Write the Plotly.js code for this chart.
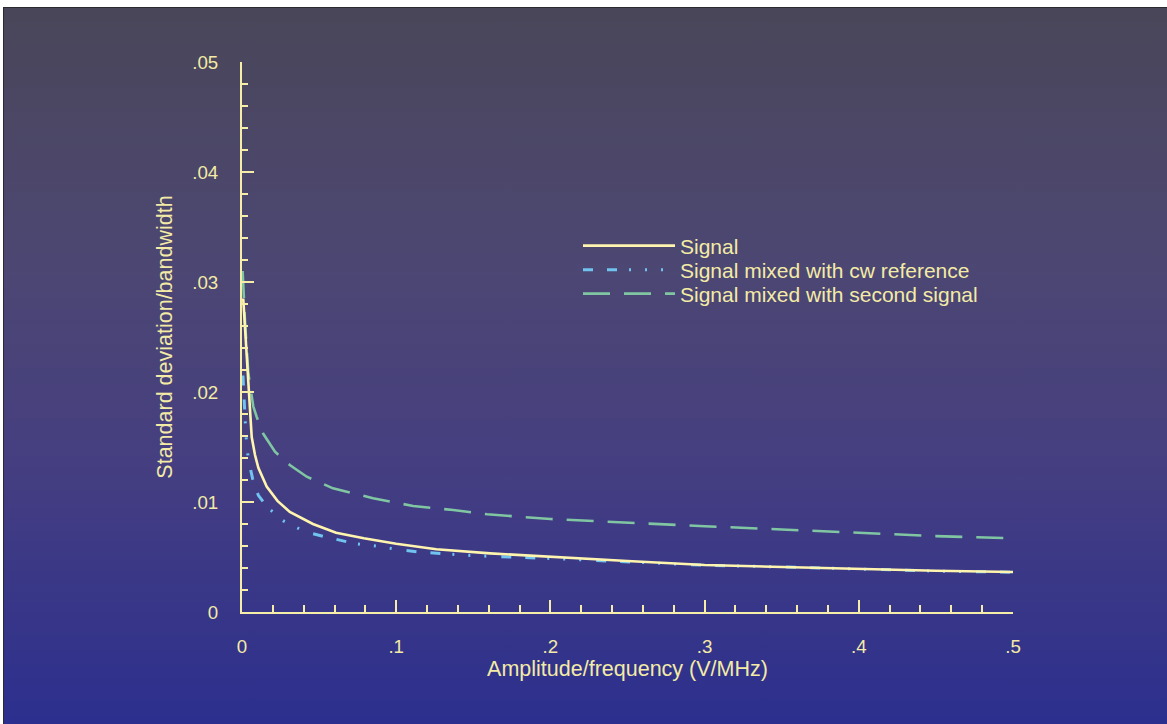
<!DOCTYPE html>
<html>
<head>
<meta charset="utf-8">
<script src="https://cdn.plot.ly/plotly-3.0.1.min.js"></script>
<style>
  html, body { margin: 0; padding: 0; background: #ffffff; width: 1167px; height: 724px; overflow: hidden; }
  #bg { position: absolute; left: 3px; top: 7px; width: 1164px; height: 717px; box-sizing: border-box;
        border-top: 1px solid #2a2a30; border-left: 1px solid #2a2a30;
        background: linear-gradient(to bottom, #4a4659 0%, #4c4772 35%, #463f80 62%, #2c2f8e 100%); }
  #chart { position: absolute; left: 0; top: 0; width: 1167px; height: 724px; }
</style>
</head>
<body>
<div id="bg"></div>
<div id="chart"></div>
<script>
// ---- data ----
const signalX = [0.0008, 0.0026, 0.0041, 0.0052, 0.0063, 0.0084, 0.0106, 0.016, 0.023, 0.031, 0.046, 0.061, 0.079, 0.100, 0.126, 0.161, 0.200, 0.250, 0.300, 0.350, 0.400, 0.450, 0.500];
const signalY = [0.0285, 0.0240, 0.0211, 0.0178, 0.0159, 0.0143, 0.0131, 0.0114, 0.0101, 0.0091, 0.0080, 0.0072, 0.0067, 0.0062, 0.0057, 0.00533, 0.0050, 0.00464, 0.00427, 0.0041, 0.0039, 0.00375, 0.00364];

const cwX = [0.0006, 0.0013, 0.0019, 0.0026, 0.0041, 0.0069, 0.0106, 0.0167, 0.0266, 0.0409, 0.0534, 0.0636, 0.0739, 0.087, 0.103, 0.1154, 0.126, 0.1366, 0.150, 0.200, 0.250, 0.300, 0.350, 0.400, 0.450, 0.500];
const cwY = [0.0215, 0.0193, 0.0179, 0.0160, 0.0139, 0.0121, 0.0106, 0.0095, 0.0083, 0.0073, 0.00685, 0.0065, 0.0062, 0.0060, 0.00564, 0.00545, 0.00533, 0.00527, 0.00512, 0.00487, 0.00455, 0.00425, 0.0041, 0.0039, 0.00372, 0.00362];

const secondX = [0.0004, 0.0020, 0.0041, 0.0063, 0.0073, 0.0095, 0.0138, 0.0214, 0.031, 0.042, 0.059, 0.085, 0.111, 0.137, 0.159, 0.200, 0.250, 0.300, 0.350, 0.400, 0.450, 0.500];
const secondY = [0.0310, 0.0263, 0.0217, 0.0199, 0.0187, 0.01775, 0.0162, 0.01457, 0.01336, 0.0123, 0.01124, 0.01034, 0.00964, 0.00927, 0.00888, 0.00845, 0.0081, 0.0078, 0.0075, 0.0072, 0.0069, 0.0067];

const seriesNames = ["Signal", "Signal mixed with cw reference", "Signal mixed with second signal"];

const xTickVals = [0, 0.1, 0.2, 0.3, 0.4, 0.5];
const xTickText = ["0", ".1", ".2", ".3", ".4", ".5"];
const yTickVals = [0, 0.01, 0.02, 0.03, 0.04, 0.05];
const yTickText = ["0", ".01", ".02", ".03", ".04", ".05"];

const xTitle = "Amplitude/frequency (V/MHz)";
const yTitle = "Standard deviation/bandwidth";

// ---- styling ----
const txt = "#f3eba6";
const axc = "#f6eea8";
const fontFam = "'Liberation Sans', Arial, Helvetica, sans-serif";

const traces = [
  { x: secondX, y: secondY, name: seriesNames[2], mode: "lines", legend: "legend3",
    line: { color: "#80c6a3", width: 2.6, dash: "27px,14px" } },
  { x: cwX, y: cwY, name: seriesNames[1], mode: "lines", legend: "legend2",
    line: { color: "#70c4ef", width: 3, dash: "10px,14px,10px,12px,2px,14px,2px,14px,2px,15px" } },
  { x: signalX, y: signalY, name: seriesNames[0], mode: "lines", legend: "legend",
    line: { color: "#fff5ae", width: 2.6 } }
];

function leg(y) {
  return { x: 0.4358, y: y, xanchor: "left", yanchor: "middle", bgcolor: "rgba(0,0,0,0)",
           borderwidth: 0, itemwidth: 92, font: { family: fontFam, size: 21, color: txt } };
}

const axisCommon = {
  showgrid: false, zeroline: false, showline: true, linecolor: axc, linewidth: 2,
  ticks: "inside", ticklen: 12, tickwidth: 2, tickcolor: axc,
  tickfont: { family: fontFam, size: 18.7, color: txt },
  fixedrange: true
};

const layout = {
  width: 1167, height: 724,
  margin: { l: 242, r: 154, t: 62, b: 112 },
  paper_bgcolor: "rgba(0,0,0,0)", plot_bgcolor: "rgba(0,0,0,0)",
  font: { family: fontFam, color: txt },
  showlegend: true,
  legend: leg(0.6655),
  legend2: leg(0.6218),
  legend3: leg(0.5782),
  xaxis: Object.assign({}, axisCommon, {
    range: [0, 0.5], tickmode: "array", tickvals: xTickVals, ticktext: xTickText,
    minor: { ticks: "inside", ticklen: 7, tickwidth: 2, tickcolor: axc, dtick: 0.02, tick0: 0, showgrid: false },
    ticklabelstandoff: 17,
    title: { text: xTitle, font: { family: fontFam, size: 21.5, color: txt }, standoff: 4 }
  }),
  yaxis: Object.assign({}, axisCommon, {
    range: [0, 0.05], tickmode: "array", tickvals: yTickVals, ticktext: yTickText,
    minor: { ticks: "inside", ticklen: 6, tickwidth: 2, tickcolor: axc, dtick: 0.002, tick0: 0, showgrid: false },
    ticklabelstandoff: 18,
    title: { text: yTitle, font: { family: fontFam, size: 21.5, color: txt }, standoff: 14 }
  })
};

Plotly.newPlot("chart", traces, layout, { displayModeBar: false, staticPlot: true });
</script>
</body>
</html>
